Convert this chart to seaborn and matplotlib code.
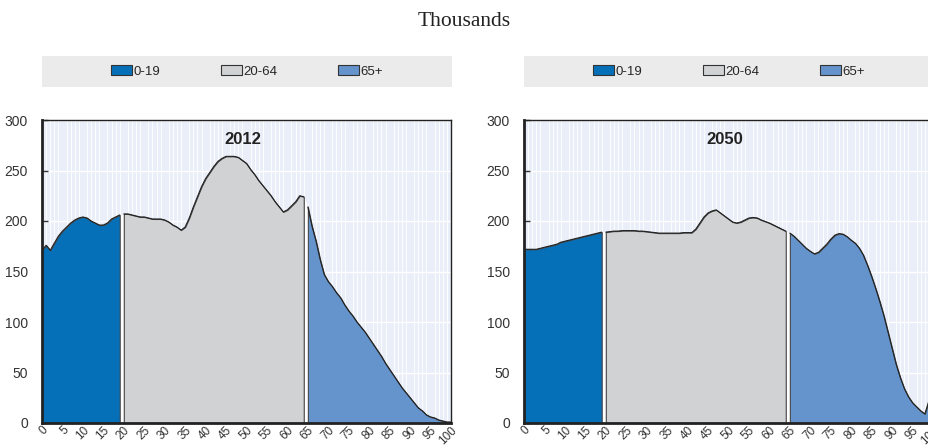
import numpy as np
import pandas as pd
import matplotlib
matplotlib.use("Agg")
import matplotlib.pyplot as plt
from matplotlib.patches import Patch
import seaborn as sns

# population by single year of age (thousands)
groups = ["0-19", "20-64", "65+"]
ages_young = list(range(0, 20))
ages_work = list(range(20, 65))
ages_old = list(range(65, 101))

pop2012_young = [171, 176, 171, 178, 185, 190, 194, 198, 201, 203,
                 204, 203, 200, 198, 196, 196, 198, 202, 204, 206]
pop2012_work = [207, 207, 206, 205, 204, 204, 203, 202, 202, 202,
                201, 199, 196, 194, 191, 194, 203, 214, 224, 234,
                242, 248, 254, 259, 262, 264, 264, 264, 263, 260,
                257, 251, 246, 240, 235, 230, 225, 219, 214, 209,
                211, 215, 219, 225, 224]
pop2012_old = [214, 195, 180, 162, 147, 140, 135, 129, 124, 117,
               111, 106, 100, 95, 90, 84, 78, 72, 66, 59,
               53, 47, 41, 35, 30, 25, 20, 15, 12, 8,
               6, 5, 3, 2, 1, 1]

pop2050_young = [172, 172, 172, 172, 173, 174, 175, 176, 177, 179,
                 180, 181, 182, 183, 184, 185, 186, 187, 188, 189]
pop2050_work = [189, 189.5, 190, 190, 190.5, 190.5, 190.5, 190.5, 190, 190,
                189.5, 189, 188.5, 188, 188, 188, 188, 188, 188, 188.5,
                188.5, 188.5, 192, 198, 204, 208, 210, 211, 208, 205,
                202, 199, 198, 199, 201, 203, 203.5, 203, 201, 199.5,
                198, 196, 194, 192, 190]
pop2050_old = [188, 185, 181, 177, 173, 170, 167.5, 169, 173, 177,
               182, 186, 187.5, 187, 184.5, 181, 178, 173, 166, 156,
               145, 133, 120, 106, 90, 74, 58, 45, 34, 26,
               20, 16, 12, 9, 22, 35]

colors = {"0-19": "#0570b8", "20-64": "#d1d2d4", "65+": "#6593cc"}


def make_df(young, work, old):
    parts = []
    for g, a, v in zip(groups, [ages_young, ages_work, ages_old], [young, work, old]):
        parts.append(pd.DataFrame({"age": a, "pop": v, "group": g}))
    return pd.concat(parts, ignore_index=True)


data = {"2012": make_df(pop2012_young, pop2012_work, pop2012_old),
        "2050": make_df(pop2050_young, pop2050_work, pop2050_old)}

sns.set_theme(style="white")
plt.rcParams["font.family"] = ["Liberation Sans Narrow", "Liberation Sans", "DejaVu Sans"]

fig = plt.figure(figsize=(9.29, 4.47), dpi=100)
W, H = 929, 447

fig.text(0.5, 1 - 22 / H, "Thousands", ha="center", va="center",
         fontsize=15.5, family=["Liberation Serif", "DejaVu Serif"], color="#222222")

lefts = [42, 524]
for left, (year, df) in zip(lefts, data.items()):
    # legend band
    lax = fig.add_axes([left / W, (H - 87) / H, 410 / W, 31 / H])
    lax.set_facecolor("#ebebeb")
    lax.set_xticks([])
    lax.set_yticks([])
    for s in lax.spines.values():
        s.set_visible(False)
    handles = [Patch(facecolor=colors[g], edgecolor="#333333", linewidth=0.8, label=g) for g in groups]
    lax.legend(handles=handles, loc="center", ncol=3, frameon=False, fontsize=9.5,
               handlelength=1.6, handleheight=0.8, handletextpad=0.1, columnspacing=4.6,
               borderaxespad=0, borderpad=0)

    ax = fig.add_axes([left / W, (H - 423) / H, 409 / W, 303 / H])
    ax.set_facecolor("#eaeef8")
    subs = [df[df["group"] == g] for g in groups]
    for g, sub in zip(groups, subs):
        ax.fill_between(sub["age"], 0, sub["pop"], facecolor=colors[g],
                        edgecolor="#444444", linewidth=0.8, zorder=2)
    # white gaps between the age groups
    for a, b in zip(subs[:-1], subs[1:]):
        ax.fill_between([a["age"].iloc[-1], b["age"].iloc[0]], 0,
                        [a["pop"].iloc[-1], b["pop"].iloc[0]],
                        facecolor="white", linewidth=0, zorder=1.5)
    sns.lineplot(data=df, x="age", y="pop", units="group", estimator=None,
                 color="#222222", linewidth=0.8, ax=ax, zorder=3, legend=False)

    ax.set_xlim(0, 100)
    ax.set_ylim(0, 300)
    ax.set_xticks(np.arange(0, 101, 5))
    ax.set_xticks(np.arange(0, 101, 1), minor=True)
    ax.set_yticks(np.arange(0, 301, 50))
    ax.grid(axis="y", which="major", color="white", linewidth=1.0, zorder=0)
    ax.grid(axis="x", which="minor", color="white", linewidth=0.6, zorder=0)
    ax.set_axisbelow(True)
    ax.set_xlabel("")
    ax.set_ylabel("")
    ax.tick_params(axis="y", direction="in", length=4, width=1, color="#333333",
                   pad=10, labelsize=10, labelcolor="#333333", left=True)
    ax.tick_params(axis="x", which="both", length=0, pad=1, labelsize=8.5, labelcolor="#333333")
    for lbl in ax.get_xticklabels():
        lbl.set_rotation(45)
        lbl.set_ha("right")
        lbl.set_rotation_mode("anchor")
    for name, s in ax.spines.items():
        s.set_visible(True)
        s.set_color("#222222")
        s.set_linewidth(2.0 if name in ("left", "bottom") else 1.0)
        s.set_zorder(4)
    ax.text(0.49, 0.935, year, transform=ax.transAxes, ha="center", va="center",
            fontsize=12, fontweight="bold", color="#222222")

fig.savefig("out.png", dpi=100)
